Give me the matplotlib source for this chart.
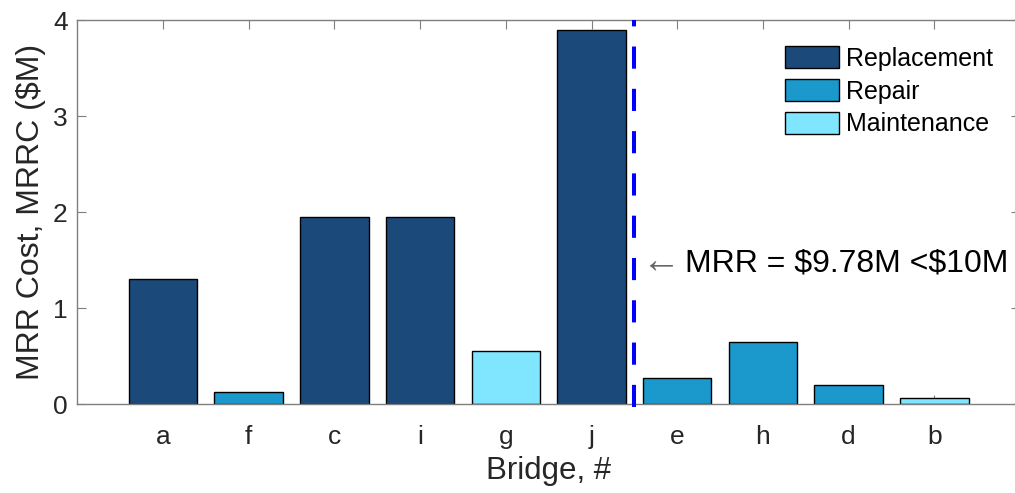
import matplotlib
matplotlib.use("Agg")
import matplotlib.pyplot as plt
from matplotlib.patches import Patch

plt.rcParams['font.family'] = ['Liberation Sans', 'DejaVu Sans']
plt.rcParams['text.parse_math'] = False

# data
bridges = ['a', 'f', 'c', 'i', 'g', 'j', 'e', 'h', 'd', 'b']
cost = [1.30, 0.13, 1.95, 1.95, 0.55, 3.90, 0.27, 0.65, 0.20, 0.06]
action = ['Replacement', 'Repair', 'Replacement', 'Replacement', 'Maintenance',
          'Replacement', 'Repair', 'Repair', 'Repair', 'Maintenance']
action_names = ['Replacement', 'Repair', 'Maintenance']
action_colors = ['#1b4a7a', '#1b98cc', '#80e5ff']
mrr_limit_pos = 6.5
note = 'MRR = $9.78M <$10M'

col = dict(zip(action_names, action_colors))
x = list(range(1, len(bridges) + 1))

fig = plt.figure(figsize=(10.15, 4.93), dpi=100)
ax = fig.add_axes([77.3 / 1015, 1 - 404 / 493, (1020 - 77.3) / 1015, 384 / 493])

ax.bar(x, cost, width=0.8, color=[col[a] for a in action],
       edgecolor='black', linewidth=1.0, zorder=2)

# budget split line
ax.plot([mrr_limit_pos, mrr_limit_pos], [-0.03, 4], color='#0000ff', lw=2.9,
        linestyle=(0, (5.5, 5.0)), clip_on=False, zorder=3)

ax.text(6.58, 1.47, '\u2190', color='#666666', fontsize=28, ha='left', va='center')
ax.text(7.09, 1.46, note, color='black', fontsize=23, ha='left', va='center')

ax.set_xlim(0, 11)
ax.set_ylim(0, 4)
ax.set_xticks(x)
ax.set_xticklabels(bridges)
ax.set_yticks([0, 1, 2, 3, 4])
ax.tick_params(direction='in', top=True, right=True, length=6.5, width=0.8,
               color='#7f7f7f', labelsize=19, labelcolor='#262626')
ax.tick_params(axis='x', pad=15)
ax.tick_params(axis='y', pad=7)
for s in ax.spines.values():
    s.set_color('#7f7f7f')
    s.set_linewidth(1.0)

ax.set_xlabel('Bridge, #', fontsize=22.5, color='#262626', labelpad=5)
ax.set_ylabel('MRR Cost, MRRC ($M)', fontsize=23, color='#262626', labelpad=5)

handles = [Patch(facecolor=c, edgecolor='black', linewidth=1.0) for c in action_colors]
ax.legend(handles, action_names, loc='upper left', frameon=False,
          bbox_to_anchor=(785 / 1015, 1 - 46 / 493), bbox_transform=fig.transFigure,
          fontsize=18, handlelength=2.16, handleheight=1.0, handletextpad=0.28,
          labelspacing=0.32, borderpad=0, borderaxespad=0)

fig.savefig('out.png', dpi=100)
